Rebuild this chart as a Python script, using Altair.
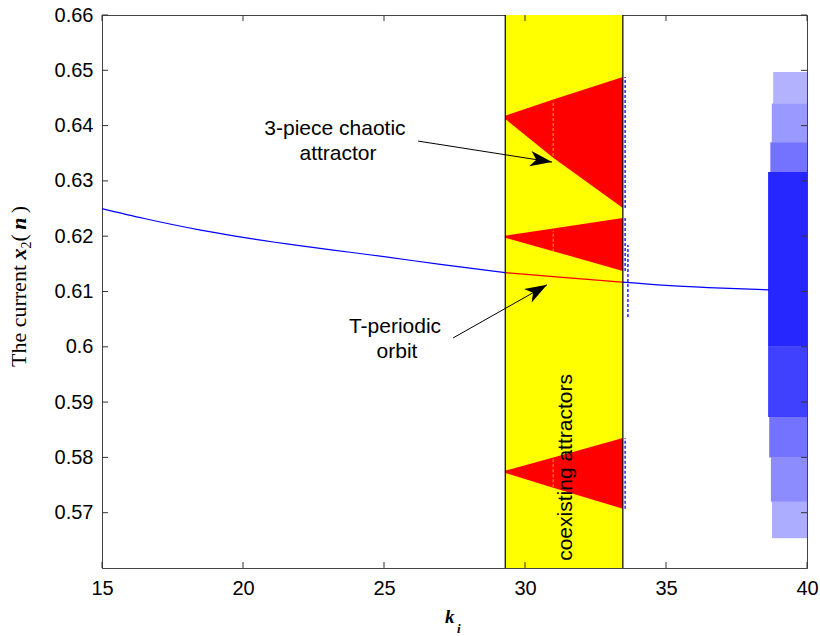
import math
import altair as alt
import pandas as pd

# ---------------- data ----------------
x_ticks = [15, 20, 25, 30, 35, 40]
y_ticks = [0.57, 0.58, 0.59, 0.60, 0.61, 0.62, 0.63, 0.64, 0.65, 0.66]

# T-periodic orbit (blue, outside coexisting band)
orbit_left_k = [15, 16.5, 18.5, 20, 22, 23.8, 25, 27, 29.3]
orbit_left_x2 = [0.6250, 0.6232, 0.6211, 0.6198, 0.6183, 0.6171, 0.6163, 0.6149, 0.6134]
orbit_band_k = [29.3, 31.0, 33.47]
orbit_band_x2 = [0.6134, 0.6127, 0.6117]
orbit_right_k = [33.47, 35.0, 36.5, 38.65]
orbit_right_x2 = [0.6117, 0.6111, 0.6107, 0.6103]

# coexisting band
band_k = [29.3, 33.47]

# 3-piece chaotic attractor (red pieces)
piece_id = ["top"] * 3 + ["mid"] * 3 + ["bot"] * 3
piece_k = [29.3, 31.0, 33.47] * 3
piece_lo = [0.6412, 0.6342, 0.6251, 0.6197, 0.6173, 0.6137, 0.5772, 0.5745, 0.5707]
piece_hi = [0.6418, 0.6447, 0.6488, 0.6201, 0.6214, 0.6233, 0.5776, 0.5800, 0.5835]

# faint orange streaks inside pieces
streak_k = [31.0, 31.0, 31.0]
streak_lo = [0.6345, 0.6172, 0.5746]
streak_hi = [0.6445, 0.6210, 0.5798]

# blue specks at the band edge
speck_k = [33.55, 33.55, 33.55, 33.65]
speck_lo = [0.6251, 0.6137, 0.5707, 0.6054]
speck_hi = [0.6488, 0.6233, 0.5835, 0.6184]

# chaotic cloud beyond k ~ 38.6 (density bands)
cloud_k0 = [38.80, 38.75, 38.70, 38.62, 38.62, 38.66, 38.72, 38.76]
cloud_k1 = [40.0] * 8
cloud_lo = [0.6440, 0.6370, 0.6316, 0.6000, 0.5873, 0.5800, 0.5720, 0.5654]
cloud_hi = [0.6497, 0.6440, 0.6370, 0.6316, 0.6000, 0.5873, 0.5800, 0.5720]
cloud_op = [0.30, 0.40, 0.55, 0.85, 0.75, 0.55, 0.45, 0.32]

# annotations
label_text = ["3-piece chaotic", "attractor", "T-periodic", "orbit"]
label_k = [23.26, 23.37, 25.39, 25.46]
label_x2 = [0.6383, 0.6338, 0.6025, 0.5980]
arrow_k0 = [26.21, 27.45]
arrow_y0 = [0.6372, 0.6016]
arrow_k1 = [30.96, 30.78]
arrow_y1 = [0.6334, 0.6112]

# ---------------- layout ----------------
W, H = 705, 553
XD = [15, 40]
YD = [0.56, 0.66]

xs = alt.Scale(domain=XD, nice=False, zero=False)
ys = alt.Scale(domain=YD, nice=False, zero=False)
x_axis = alt.Axis(values=x_ticks, title=None, ticks=False, labelPadding=10, grid=False,
                  format="d", labelFlush=False, labelOverlap=False)
y_axis = alt.Axis(values=y_ticks, title=None, ticks=False, labelPadding=9, grid=False,
                  format=".2~f", labelFlush=False, labelOverlap=False)


def X(f, **kw):
    return alt.X(f, type="quantitative", scale=xs, axis=x_axis, **kw)


def Y(f, **kw):
    return alt.Y(f, type="quantitative", scale=ys, axis=y_axis, **kw)


band_df = pd.DataFrame({"k0": [band_k[0]], "k1": [band_k[1]]})
band = alt.Chart(band_df).mark_rect(color="#FFFF00").encode(
    x=X("k0"), x2="k1", y=alt.value(0), y2=alt.value(H))
edge_df = pd.DataFrame({"k": band_k})
edges = alt.Chart(edge_df).mark_rule(color="black", strokeWidth=1.2).encode(
    x=X("k"), y=alt.value(0), y2=alt.value(H))

pieces_df = pd.DataFrame({"id": piece_id, "k": piece_k, "lo": piece_lo, "hi": piece_hi})
pieces = alt.Chart(pieces_df).mark_area(color="#FF0000", opacity=1, interpolate="linear").encode(
    x=X("k"), y=Y("lo"), y2="hi", detail="id:N")

streak_df = pd.DataFrame({"k": streak_k, "lo": streak_lo, "hi": streak_hi})
streaks = alt.Chart(streak_df).mark_rule(color="#FFB000", strokeWidth=1.2, strokeDash=[3, 2], opacity=0.8).encode(
    x=X("k"), y=Y("lo"), y2="hi")

speck_df = pd.DataFrame({"k": speck_k, "lo": speck_lo, "hi": speck_hi})
specks = alt.Chart(speck_df).mark_rule(color="#0000FF", strokeWidth=1.3, strokeDash=[3, 2]).encode(
    x=X("k"), y=Y("lo"), y2="hi")

ol = pd.DataFrame({"k": orbit_left_k, "v": orbit_left_x2})
orbit_l = alt.Chart(ol).mark_line(color="#0000FF", strokeWidth=1.2, interpolate="monotone").encode(x=X("k"), y=Y("v"))
ob = pd.DataFrame({"k": orbit_band_k, "v": orbit_band_x2})
orbit_b = alt.Chart(ob).mark_line(color="#FF0000", strokeWidth=1.2, interpolate="monotone").encode(x=X("k"), y=Y("v"))
orr = pd.DataFrame({"k": orbit_right_k, "v": orbit_right_x2})
orbit_r = alt.Chart(orr).mark_line(color="#0000FF", strokeWidth=1.2, interpolate="monotone").encode(x=X("k"), y=Y("v"))

cloud_df = pd.DataFrame({"k0": cloud_k0, "k1": cloud_k1, "lo": cloud_lo, "hi": cloud_hi, "op": cloud_op})
cloud = alt.Chart(cloud_df).mark_rect(color="#0000FF").encode(
    x=X("k0"), x2="k1", y=Y("lo"), y2="hi",
    opacity=alt.Opacity("op:Q", scale=None, legend=None))

# arrows
angles = []
for a, b, c, d in zip(arrow_k0, arrow_y0, arrow_k1, arrow_y1):
    dx = (c - a) * W / (XD[1] - XD[0])
    dy = -(d - b) * H / (YD[1] - YD[0])
    angles.append(math.degrees(math.atan2(dy, dx)) % 360)
arrow_df = pd.DataFrame({"k0": arrow_k0, "y0": arrow_y0, "k1": arrow_k1, "y1": arrow_y1, "ang": angles})
shafts = alt.Chart(arrow_df).mark_rule(color="black", strokeWidth=1).encode(
    x=X("k0"), y=Y("y0"), x2="k1", y2="y1")
heads = alt.Chart(arrow_df).mark_point(
    shape="M0,0L-2,-0.7L-1.45,0L-2,0.7Z", filled=True, color="black", opacity=1, size=484
).encode(x=X("k1"), y=Y("y1"), angle=alt.Angle("ang:Q", scale=None))

lab_df = pd.DataFrame({"t": label_text, "k": label_k, "v": label_x2})
labels = alt.Chart(lab_df).mark_text(font="Liberation Sans", fontSize=21, align="center",
                                     baseline="alphabetic", color="black").encode(
    x=X("k"), y=Y("v"), text="t:N")

coex_df = pd.DataFrame({"t": ["coexisting attractors"], "k": [31.67], "v": [0.5613]})
coex = alt.Chart(coex_df).mark_text(font="Liberation Sans", fontSize=21, align="left",
                                    baseline="alphabetic", angle=270, color="black").encode(
    x=X("k"), y=Y("v"), text="t:N")

# inward ticks (MATLAB style, all four sides)
TL = 6
xt_df = pd.DataFrame({"k": x_ticks})
yt_df = pd.DataFrame({"v": y_ticks})
tick_col = "#333333"
xt_bot = alt.Chart(xt_df).mark_rule(color=tick_col).encode(x=X("k"), y=alt.value(H), y2=alt.value(H - TL))
xt_top = alt.Chart(xt_df).mark_rule(color=tick_col).encode(x=X("k"), y=alt.value(0), y2=alt.value(TL))
yt_l = alt.Chart(yt_df).mark_rule(color=tick_col).encode(y=Y("v"), x=alt.value(0), x2=alt.value(TL))
yt_r = alt.Chart(yt_df).mark_rule(color=tick_col).encode(y=Y("v"), x=alt.value(W), x2=alt.value(W - TL))


# axis titles (composite, to mimic mixed fonts and subscripts)
def txt(s, x, y, size, style="normal", weight="normal", angle=0, align="left"):
    return alt.Chart(pd.DataFrame({"t": [s]})).mark_text(
        font="Liberation Serif", fontSize=size, fontStyle=style, fontWeight=weight,
        angle=angle, align=align, baseline="alphabetic", color="black"
    ).encode(x=alt.value(x), y=alt.value(y), text="t:N")


yx = -76  # baseline x of rotated title (relative to plot)
y0 = 352  # starting y (bottom) of rotated title
fs = 22
sub = 14
parts = []
cur = y0
parts.append(txt("The current", yx, cur, fs, angle=270))
cur -= 4.637 * fs + 0.25 * fs
parts.append(txt("x", yx, cur, fs, style="italic", weight="bold", angle=270))
cur -= 0.5 * fs
parts.append(txt("2", yx + 5, cur, sub, angle=270))
cur -= 0.5 * sub
parts.append(txt("(", yx, cur, fs, angle=270))
cur -= 0.333 * fs + 0.2 * fs
parts.append(txt("n", yx, cur, fs, style="italic", weight="bold", angle=270))
cur -= 0.556 * fs + 0.2 * fs
parts.append(txt(")", yx, cur, fs, angle=270))

parts.append(txt("k", 343, 608, 19, style="italic", weight="bold"))
parts.append(txt("i", 355, 618, 13, style="italic", weight="bold"))

chart = alt.layer(
    band, pieces, streaks, orbit_l, orbit_b, orbit_r, specks, edges, cloud,
    shafts, heads, labels, coex, xt_bot, xt_top, yt_l, yt_r, *parts
).properties(
    width=W, height=H,
    autosize=alt.AutoSizeParams(type="none"),
    padding={"left": 102, "top": 15, "right": 13, "bottom": 68},
).configure_view(
    stroke="#444444", strokeWidth=1
).configure_axis(
    labelFont="Liberation Sans", labelFontSize=20, labelColor="black",
    domainColor="#444444", domainWidth=1
)

chart.save("out.html", embed_options={"renderer": "svg", "actions": False})
